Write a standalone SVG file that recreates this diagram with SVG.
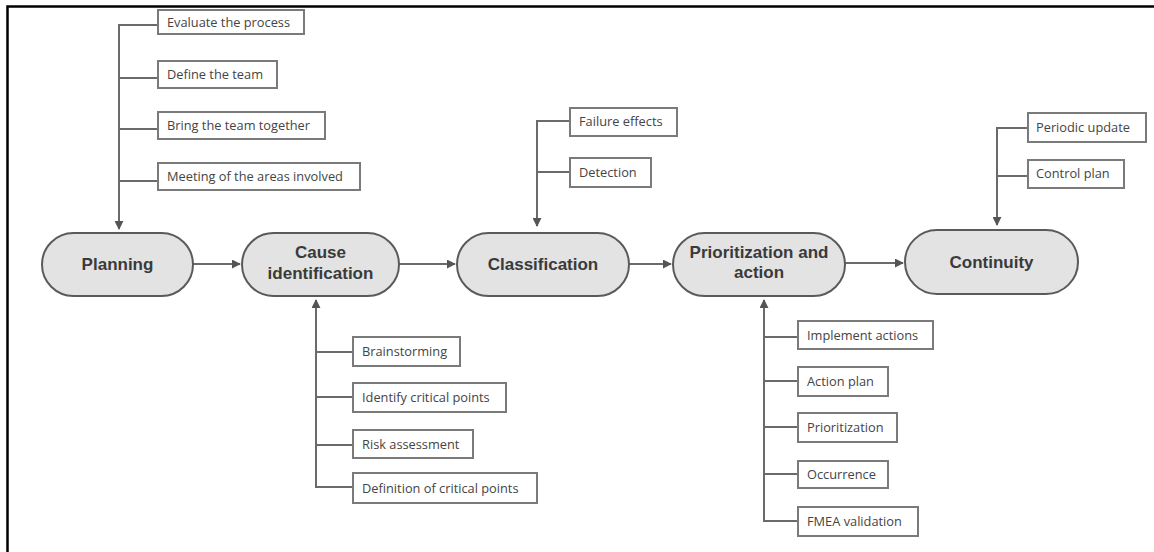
<svg xmlns="http://www.w3.org/2000/svg" width="1154" height="552" viewBox="0 0 1154 552">
<style>
.node rect{fill:#e3e3e3;stroke:#5a5a5a;stroke-width:2}
.node text{font-family:"Liberation Sans",Arial,sans-serif;font-weight:bold;font-size:17px;fill:#3a3a3a;text-anchor:middle}
.item rect{fill:#fff;stroke:#7a7a7a;stroke-width:2}
.item text{font-family:"Open Sans","Liberation Sans",sans-serif;font-size:12.8px;fill:#444}
.conn path{fill:none;stroke:#6a6a6a;stroke-width:2}
</style>
<defs>
<marker id="ah" viewBox="0 0 10 10" refX="9" refY="5" markerWidth="4.5" markerHeight="4.5" orient="auto" markerUnits="strokeWidth">
<path d="M0,0 L10,5 L0,10 z" fill="#555"/>
</marker>
</defs>
<rect width="1154" height="552" fill="#fff"/>
<path d="M7.5,552 V6.5 H1154" fill="none" stroke="#000" stroke-width="2.5"/>

<g class="conn">
<path d="M193,264 H240" marker-end="url(#ah)"/>
<path d="M399,264 H455" marker-end="url(#ah)"/>
<path d="M629,264 H671" marker-end="url(#ah)"/>
<path d="M845,263 H903" marker-end="url(#ah)"/>
<path d="M158,25 H119 V229" marker-end="url(#ah)"/>
<path d="M119,78 H158 M119,129 H158 M119,181 H158"/>
<path d="M570,121 H537 V226" marker-end="url(#ah)"/>
<path d="M537,172 H570"/>
<path d="M1028,128 H997 V225" marker-end="url(#ah)"/>
<path d="M997,176 H1028"/>
<path d="M353,487 H316 V300" marker-end="url(#ah)"/>
<path d="M316,352 H353 M316,397 H353 M316,445 H353"/>
<path d="M798,521 H764 V300" marker-end="url(#ah)"/>
<path d="M764,337 H798 M764,381 H798 M764,427 H798 M764,474 H798"/>
</g>

<g id="planning" class="node"><rect x="42" y="233" width="151" height="63" rx="31.5"/><text x="117.5" y="270">Planning</text></g>
<g id="cause" class="node"><rect x="242" y="233" width="157" height="63" rx="31.5"/><text x="320.5" y="258">Cause</text><text x="320.5" y="279">identification</text></g>
<g id="classification" class="node"><rect x="457" y="233" width="172" height="63" rx="31.5"/><text x="543" y="270">Classification</text></g>
<g id="prioritization" class="node"><rect x="673" y="233" width="172" height="63" rx="31.5"/><text x="759" y="258">Prioritization and</text><text x="759" y="278">action</text></g>
<g id="continuity" class="node"><rect x="905" y="230" width="173" height="64" rx="32"/><text x="991.5" y="268">Continuity</text></g>

<g id="evaluate" class="item"><rect x="158" y="10" width="146" height="24"/><text x="167" y="26.5">Evaluate the process</text></g>
<g id="define" class="item"><rect x="158" y="61" width="119" height="27"/><text x="167" y="79">Define the team</text></g>
<g id="bring" class="item"><rect x="158" y="112" width="167" height="27"/><text x="167" y="130">Bring the team together</text></g>
<g id="meeting" class="item"><rect x="158" y="163" width="202" height="27"/><text x="167" y="181">Meeting of the areas involved</text></g>

<g id="failure" class="item"><rect x="570" y="108" width="107" height="28"/><text x="579" y="126">Failure effects</text></g>
<g id="detection" class="item"><rect x="570" y="158" width="81" height="29"/><text x="579" y="177">Detection</text></g>

<g id="periodic" class="item"><rect x="1028" y="113" width="118" height="29"/><text x="1036" y="132">Periodic update</text></g>
<g id="control" class="item"><rect x="1028" y="160" width="96" height="28"/><text x="1036" y="178">Control plan</text></g>

<g id="brainstorming" class="item"><rect x="353" y="337" width="107" height="29"/><text x="362" y="356">Brainstorming</text></g>
<g id="identify" class="item"><rect x="353" y="383" width="153" height="29"/><text x="362" y="402">Identify critical points</text></g>
<g id="risk" class="item"><rect x="353" y="430" width="120" height="28"/><text x="362" y="449">Risk assessment</text></g>
<g id="definition" class="item"><rect x="353" y="473" width="184" height="30"/><text x="362" y="493">Definition of critical points</text></g>

<g id="implement" class="item"><rect x="798" y="321" width="135" height="28"/><text x="807" y="340">Implement actions</text></g>
<g id="actionplan" class="item"><rect x="798" y="367" width="90" height="29"/><text x="807" y="386">Action plan</text></g>
<g id="prior" class="item"><rect x="798" y="413" width="99" height="29"/><text x="807" y="432">Prioritization</text></g>
<g id="occurrence" class="item"><rect x="798" y="461" width="90" height="27"/><text x="807" y="479">Occurrence</text></g>
<g id="fmea" class="item"><rect x="798" y="507" width="120" height="29"/><text x="807" y="526">FMEA validation</text></g>
</svg>
